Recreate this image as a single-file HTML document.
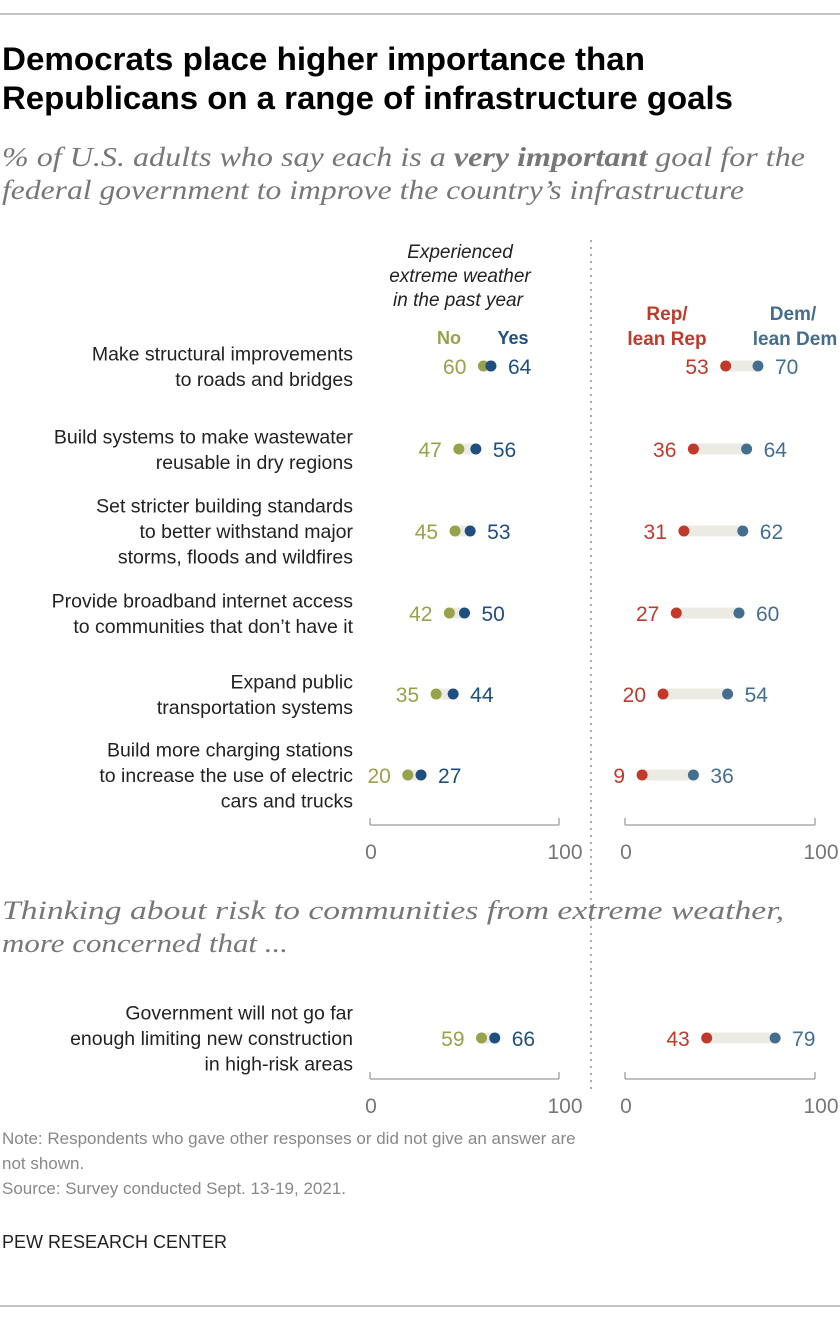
<!DOCTYPE html>
<html><head><meta charset="utf-8"><style>
html,body{margin:0;padding:0;background:#fff;}
svg{display:block;}
text{font-family:"Liberation Sans",Arial,sans-serif;}
.serif{font-family:"Liberation Serif",serif;font-style:italic;}
</style></head><body>
<svg id="chart" width="840" height="1322" viewBox="0 0 840 1322">
<line x1="0" y1="14" x2="840" y2="14" stroke="#888" stroke-width="1"/>
<text x="2" y="70" font-size="32" font-weight="bold" fill="#000" textLength="643" lengthAdjust="spacingAndGlyphs">Democrats place higher importance than</text>
<text x="2" y="109" font-size="32" font-weight="bold" fill="#000" textLength="731" lengthAdjust="spacingAndGlyphs">Republicans on a range of infrastructure goals</text>
<text class="serif" x="2" y="166" font-size="27" fill="#777" textLength="803" lengthAdjust="spacingAndGlyphs">% of U.S. adults who say each is a <tspan font-weight="bold">very important</tspan> goal for the</text>
<text class="serif" x="2" y="199" font-size="27" fill="#777" textLength="742" lengthAdjust="spacingAndGlyphs">federal government to improve the country’s infrastructure</text>

<line x1="591" y1="240" x2="591" y2="1092" stroke="#aaa" stroke-width="2" stroke-dasharray="2,5"/>

<g font-style="italic" font-size="19" fill="#222" text-anchor="middle">
<text x="460" y="258">Experienced</text>
<text x="460" y="282">extreme weather</text>
<text x="458" y="306">in the past year</text>
</g>
<text x="449" y="344" font-size="18" font-weight="bold" fill="#98a24a" text-anchor="middle">No</text>
<text x="513" y="344" font-size="18" font-weight="bold" fill="#1f4e80" text-anchor="middle">Yes</text>
<text x="667" y="320" font-size="19" font-weight="bold" fill="#c0392b" text-anchor="middle">Rep/</text>
<text x="667" y="345" font-size="19" font-weight="bold" fill="#c0392b" text-anchor="middle">lean Rep</text>
<text x="793" y="320" font-size="19" font-weight="bold" fill="#436e8f" text-anchor="middle">Dem/</text>
<text x="795" y="345" font-size="19" font-weight="bold" fill="#436e8f" text-anchor="middle">lean Dem</text>

<text class="serif" x="2" y="919" font-size="26" fill="#777" textLength="782" lengthAdjust="spacingAndGlyphs">Thinking about risk to communities from extreme weather,</text>
<text class="serif" x="2" y="952" font-size="26" fill="#777" textLength="286" lengthAdjust="spacingAndGlyphs">more concerned that ...</text>

<g id="marks"></g>

<g font-size="17" fill="#888">
<text x="2" y="1144">Note: Respondents who gave other responses or did not give an answer are</text>
<text x="2" y="1169">not shown.</text>
<text x="2" y="1194">Source: Survey conducted Sept. 13-19, 2021.</text>
</g>
<text x="2" y="1248" font-size="18" fill="#222">PEW RESEARCH CENTER</text>
<line x1="0" y1="1306" x2="840" y2="1306" stroke="#888" stroke-width="1"/>
</svg>
<script>
const categories = [
 ["Make structural improvements","to roads and bridges"],
 ["Build systems to make wastewater","reusable in dry regions"],
 ["Set stricter building standards","to better withstand major","storms, floods and wildfires"],
 ["Provide broadband internet access","to communities that don’t have it"],
 ["Expand public","transportation systems"],
 ["Build more charging stations","to increase the use of electric","cars and trucks"],
 ["Government will not go far","enough limiting new construction","in high-risk areas"]
];
const weatherNo = [60,47,45,42,35,20,59];
const weatherYes = [64,56,53,50,44,27,66];
const repValues = [53,36,31,27,20,9,43];
const demValues = [70,64,62,60,54,36,79];
const tickLabels = [0,100];

const rowY = [366,449,531,613,694,775,1038];
const NS="http://www.w3.org/2000/svg";
const g=document.getElementById('marks');
function xLeft(v){return 370+v*1.89;}
function xRight(v){return 625+v*1.9;}
function mk(tag,attrs,txt){const e=document.createElementNS(NS,tag);for(const k in attrs)e.setAttribute(k,attrs[k]);if(txt!==undefined)e.textContent=txt;g.appendChild(e);return e;}

function axis(xf,y,name){
  const x0=xf(tickLabels[0]),x1=xf(tickLabels[tickLabels.length-1]);
  let l=mk('line',{x1:x0,y1:y,x2:x1,y2:y,stroke:'#aaa','stroke-width':1.5});
  
  
  tickLabels.forEach(t=>{
    let tk=mk('line',{x1:xf(t),y1:y-7,x2:xf(t),y2:y,stroke:'#aaa','stroke-width':1.5});
    
    
    let tl=mk('text',{x:xf(t)+(t===0?1:6),y:y+34,'font-size':21,fill:'#777','text-anchor':'middle'},String(t));
    
    
  });
}
axis(xLeft,825,'weather');
axis(xRight,825,'party');
axis(xLeft,1079,'weather-risk');
axis(xRight,1079,'party-risk');

function pair(xf,lo,hi,cy,cLo,cHi,name){
  const a=Math.min(lo,hi),b=Math.max(lo,hi);
  let bar=mk('line',{x1:xf(a),y1:cy,x2:xf(b),y2:cy,stroke:'#ecebe3','stroke-width':11});
  
  
  let d1=mk('circle',{cx:xf(lo),cy:cy,r:5.5,fill:cLo});
  
  
  let d2=mk('circle',{cx:xf(hi),cy:cy,r:5.5,fill:cHi});
  
  
  let t1=mk('text',{x:xf(a)-17,y:cy+8,'font-size':21,fill:cLo,'text-anchor':'end'},String(lo));
  
  
  let t2=mk('text',{x:xf(b)+17,y:cy+8,'font-size':21,fill:cHi},String(hi));
  
  
}

categories.forEach((lines,i)=>{
  const cy=rowY[i];
  const n=lines.length, lh=25.5;
  lines.forEach((s,j)=>{
    const y=cy+7+(j-(n-1)/2)*lh;
    let t=mk('text',{x:353,y:y,'font-size':19.5,fill:'#222','text-anchor':'end'},s);
    
    
  });
  pair(xLeft,weatherNo[i],weatherYes[i],cy,'#98a24a','#1f4e80','weather-row-'+i);
  pair(xRight,repValues[i],demValues[i],cy,'#c0392b','#436e8f','party-row-'+i);
});
</script>
</body></html>
